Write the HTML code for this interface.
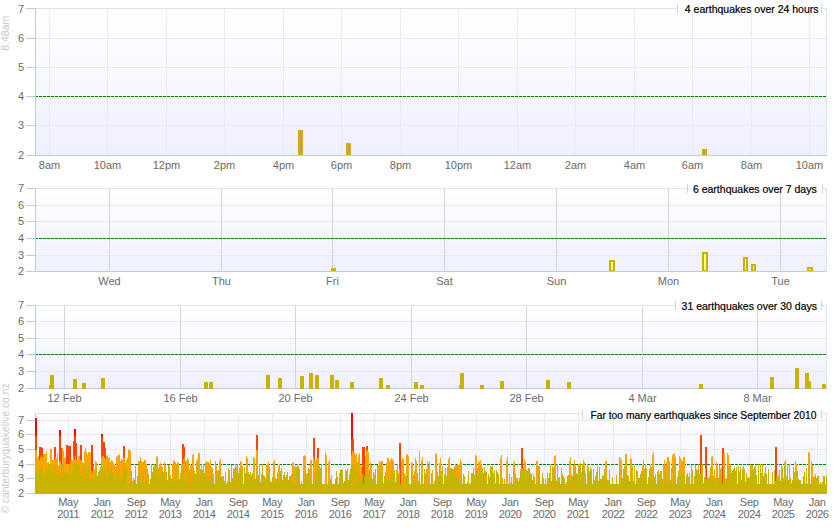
<!DOCTYPE html>
<html><head><meta charset="utf-8"><style>html,body{margin:0;padding:0;background:#fff;overflow:hidden}svg{display:block}</style></head>
<body><svg width="835" height="530" viewBox="0 0 835 530" font-family='"Liberation Sans", sans-serif'><linearGradient id="g0" x1="0" y1="0" x2="0" y2="1"><stop offset="0" stop-color="#FFFFFF"/><stop offset="1" stop-color="#EFEFFF"/></linearGradient>
<rect x="35.5" y="8.5" width="791.0" height="147.0" fill="url(#g0)"/>
<line x1="35.5" x2="826.5" y1="125.5" y2="125.5" stroke="#EAEAF0" stroke-width="1"/>
<line x1="35.5" x2="826.5" y1="96.5" y2="96.5" stroke="#EAEAF0" stroke-width="1"/>
<line x1="35.5" x2="826.5" y1="67.5" y2="67.5" stroke="#EAEAF0" stroke-width="1"/>
<line x1="35.5" x2="826.5" y1="38.5" y2="38.5" stroke="#EAEAF0" stroke-width="1"/>
<line x1="35.5" x2="826.5" y1="8.5" y2="8.5" stroke="#EAEAF0" stroke-width="1"/>
<line x1="49.5" x2="49.5" y1="8.5" y2="155.5" stroke="#EAEAF0" stroke-width="1"/>
<line x1="107.5" x2="107.5" y1="8.5" y2="155.5" stroke="#EAEAF0" stroke-width="1"/>
<line x1="166.5" x2="166.5" y1="8.5" y2="155.5" stroke="#EAEAF0" stroke-width="1"/>
<line x1="224.5" x2="224.5" y1="8.5" y2="155.5" stroke="#EAEAF0" stroke-width="1"/>
<line x1="283.5" x2="283.5" y1="8.5" y2="155.5" stroke="#EAEAF0" stroke-width="1"/>
<line x1="341.5" x2="341.5" y1="8.5" y2="155.5" stroke="#EAEAF0" stroke-width="1"/>
<line x1="400.5" x2="400.5" y1="8.5" y2="155.5" stroke="#EAEAF0" stroke-width="1"/>
<line x1="458.5" x2="458.5" y1="8.5" y2="155.5" stroke="#EAEAF0" stroke-width="1"/>
<line x1="517.5" x2="517.5" y1="8.5" y2="155.5" stroke="#EAEAF0" stroke-width="1"/>
<line x1="575.5" x2="575.5" y1="8.5" y2="155.5" stroke="#EAEAF0" stroke-width="1"/>
<line x1="634.5" x2="634.5" y1="8.5" y2="155.5" stroke="#EAEAF0" stroke-width="1"/>
<line x1="692.5" x2="692.5" y1="8.5" y2="155.5" stroke="#EAEAF0" stroke-width="1"/>
<line x1="751.5" x2="751.5" y1="8.5" y2="155.5" stroke="#EAEAF0" stroke-width="1"/>
<line x1="809.5" x2="809.5" y1="8.5" y2="155.5" stroke="#EAEAF0" stroke-width="1"/>
<line x1="35" x2="827" y1="96.5" y2="96.5" stroke="#008000" stroke-width="1" stroke-dasharray="3,1"/>
<rect x="299" y="131" width="3" height="24" fill="#F08070" stroke="#C8B400" stroke-width="2"/>
<rect x="347" y="144" width="3" height="11" fill="#F08070" stroke="#C8B400" stroke-width="2"/>
<rect x="703" y="150" width="3" height="5" fill="#F08070" stroke="#C8B400" stroke-width="2"/>
<line x1="826.5" x2="826.5" y1="8.5" y2="155.5" stroke="#DCE6EA" stroke-width="1"/>
<line x1="35.5" x2="826.5" y1="8.5" y2="8.5" stroke="#DCE6EA" stroke-width="1"/>
<line x1="35.5" x2="35.5" y1="8.5" y2="155.5" stroke="#B8D0D0" stroke-width="1"/>
<line x1="35.5" x2="826.5" y1="155.5" y2="155.5" stroke="#B8D0D0" stroke-width="1"/>
<line x1="26" x2="35.5" y1="155.5" y2="155.5" stroke="#B8D0D0" stroke-width="1"/>
<text x="24" y="159.0" text-anchor="end" font-size="11" fill="#6A6A6A">2</text>
<line x1="26" x2="35.5" y1="125.5" y2="125.5" stroke="#B8D0D0" stroke-width="1"/>
<text x="24" y="129.0" text-anchor="end" font-size="11" fill="#6A6A6A">3</text>
<line x1="26" x2="35.5" y1="96.5" y2="96.5" stroke="#B8D0D0" stroke-width="1"/>
<text x="24" y="100.0" text-anchor="end" font-size="11" fill="#6A6A6A">4</text>
<line x1="26" x2="35.5" y1="67.5" y2="67.5" stroke="#B8D0D0" stroke-width="1"/>
<text x="24" y="71.0" text-anchor="end" font-size="11" fill="#6A6A6A">5</text>
<line x1="26" x2="35.5" y1="38.5" y2="38.5" stroke="#B8D0D0" stroke-width="1"/>
<text x="24" y="42.0" text-anchor="end" font-size="11" fill="#6A6A6A">6</text>
<line x1="26" x2="35.5" y1="8.5" y2="8.5" stroke="#B8D0D0" stroke-width="1"/>
<text x="24" y="13.0" text-anchor="end" font-size="11" fill="#6A6A6A">7</text>
<text x="49.5" y="169" text-anchor="middle" font-size="11" fill="#6A6A6A">8am</text>
<text x="107.5" y="169" text-anchor="middle" font-size="11" fill="#6A6A6A">10am</text>
<text x="166.5" y="169" text-anchor="middle" font-size="11" fill="#6A6A6A">12pm</text>
<text x="224.5" y="169" text-anchor="middle" font-size="11" fill="#6A6A6A">2pm</text>
<text x="283.5" y="169" text-anchor="middle" font-size="11" fill="#6A6A6A">4pm</text>
<text x="341.5" y="169" text-anchor="middle" font-size="11" fill="#6A6A6A">6pm</text>
<text x="400.5" y="169" text-anchor="middle" font-size="11" fill="#6A6A6A">8pm</text>
<text x="458.5" y="169" text-anchor="middle" font-size="11" fill="#6A6A6A">10pm</text>
<text x="517.5" y="169" text-anchor="middle" font-size="11" fill="#6A6A6A">12am</text>
<text x="575.5" y="169" text-anchor="middle" font-size="11" fill="#6A6A6A">2am</text>
<text x="634.5" y="169" text-anchor="middle" font-size="11" fill="#6A6A6A">4am</text>
<text x="692.5" y="169" text-anchor="middle" font-size="11" fill="#6A6A6A">6am</text>
<text x="751.5" y="169" text-anchor="middle" font-size="11" fill="#6A6A6A">8am</text>
<text x="809.5" y="169" text-anchor="middle" font-size="11" fill="#6A6A6A">10am</text>
<rect x="677.5" y="4" width="144.0" height="9" fill="#fff"/>
<line x1="677.5" x2="677.5" y1="4" y2="13" stroke="#D0D4D8" stroke-width="1"/>
<line x1="821.5" x2="821.5" y1="4" y2="13" stroke="#D0D4D8" stroke-width="1"/>
<text x="818.5" y="12.5" text-anchor="end" font-size="10.5" fill="#000" stroke="#000" stroke-width="0.2">4 earthquakes over 24 hours</text>
<linearGradient id="g1" x1="0" y1="0" x2="0" y2="1"><stop offset="0" stop-color="#FFFFFF"/><stop offset="1" stop-color="#EFEFFF"/></linearGradient>
<rect x="35.5" y="188.5" width="791.0" height="83.0" fill="url(#g1)"/>
<line x1="35.5" x2="826.5" y1="255.5" y2="255.5" stroke="#EAEAF0" stroke-width="1"/>
<line x1="35.5" x2="826.5" y1="238.5" y2="238.5" stroke="#EAEAF0" stroke-width="1"/>
<line x1="35.5" x2="826.5" y1="221.5" y2="221.5" stroke="#EAEAF0" stroke-width="1"/>
<line x1="35.5" x2="826.5" y1="205.5" y2="205.5" stroke="#EAEAF0" stroke-width="1"/>
<line x1="35.5" x2="826.5" y1="188.5" y2="188.5" stroke="#EAEAF0" stroke-width="1"/>
<line x1="109.5" x2="109.5" y1="188.5" y2="271.5" stroke="#D4D4DC" stroke-width="1"/>
<line x1="221.5" x2="221.5" y1="188.5" y2="271.5" stroke="#D4D4DC" stroke-width="1"/>
<line x1="332.5" x2="332.5" y1="188.5" y2="271.5" stroke="#D4D4DC" stroke-width="1"/>
<line x1="444.5" x2="444.5" y1="188.5" y2="271.5" stroke="#D4D4DC" stroke-width="1"/>
<line x1="556.5" x2="556.5" y1="188.5" y2="271.5" stroke="#D4D4DC" stroke-width="1"/>
<line x1="668.5" x2="668.5" y1="188.5" y2="271.5" stroke="#D4D4DC" stroke-width="1"/>
<line x1="780.5" x2="780.5" y1="188.5" y2="271.5" stroke="#D4D4DC" stroke-width="1"/>
<line x1="35" x2="827" y1="238.5" y2="238.5" stroke="#008000" stroke-width="1" stroke-dasharray="3,1"/>
<rect x="332" y="269" width="3" height="2" fill="#FFFF80" stroke="#C8B400" stroke-width="2"/>
<rect x="610" y="261" width="4" height="10" fill="#FFFF80" stroke="#C8B400" stroke-width="2"/>
<rect x="703" y="253" width="4" height="18" fill="#FFFF80" stroke="#C8B400" stroke-width="2"/>
<rect x="744" y="258" width="3" height="13" fill="#FFFF80" stroke="#C8B400" stroke-width="2"/>
<rect x="752" y="265" width="3" height="6" fill="#FFFF80" stroke="#C8B400" stroke-width="2"/>
<rect x="808" y="268" width="4" height="3" fill="#FFFF80" stroke="#C8B400" stroke-width="2"/>
<line x1="826.5" x2="826.5" y1="188.5" y2="271.5" stroke="#DCE6EA" stroke-width="1"/>
<line x1="35.5" x2="826.5" y1="188.5" y2="188.5" stroke="#DCE6EA" stroke-width="1"/>
<line x1="35.5" x2="35.5" y1="188.5" y2="271.5" stroke="#B8D0D0" stroke-width="1"/>
<line x1="35.5" x2="826.5" y1="271.5" y2="271.5" stroke="#B8D0D0" stroke-width="1"/>
<line x1="26" x2="35.5" y1="271.5" y2="271.5" stroke="#B8D0D0" stroke-width="1"/>
<text x="24" y="275.0" text-anchor="end" font-size="11" fill="#6A6A6A">2</text>
<line x1="26" x2="35.5" y1="255.5" y2="255.5" stroke="#B8D0D0" stroke-width="1"/>
<text x="24" y="259.0" text-anchor="end" font-size="11" fill="#6A6A6A">3</text>
<line x1="26" x2="35.5" y1="238.5" y2="238.5" stroke="#B8D0D0" stroke-width="1"/>
<text x="24" y="242.0" text-anchor="end" font-size="11" fill="#6A6A6A">4</text>
<line x1="26" x2="35.5" y1="221.5" y2="221.5" stroke="#B8D0D0" stroke-width="1"/>
<text x="24" y="225.0" text-anchor="end" font-size="11" fill="#6A6A6A">5</text>
<line x1="26" x2="35.5" y1="205.5" y2="205.5" stroke="#B8D0D0" stroke-width="1"/>
<text x="24" y="209.0" text-anchor="end" font-size="11" fill="#6A6A6A">6</text>
<line x1="26" x2="35.5" y1="188.5" y2="188.5" stroke="#B8D0D0" stroke-width="1"/>
<text x="24" y="192.0" text-anchor="end" font-size="11" fill="#6A6A6A">7</text>
<text x="109.5" y="285" text-anchor="middle" font-size="11" fill="#6A6A6A">Wed</text>
<text x="221.5" y="285" text-anchor="middle" font-size="11" fill="#6A6A6A">Thu</text>
<text x="332.5" y="285" text-anchor="middle" font-size="11" fill="#6A6A6A">Fri</text>
<text x="444.5" y="285" text-anchor="middle" font-size="11" fill="#6A6A6A">Sat</text>
<text x="556.5" y="285" text-anchor="middle" font-size="11" fill="#6A6A6A">Sun</text>
<text x="668.5" y="285" text-anchor="middle" font-size="11" fill="#6A6A6A">Mon</text>
<text x="780.5" y="285" text-anchor="middle" font-size="11" fill="#6A6A6A">Tue</text>
<rect x="687.5" y="184" width="135.0" height="9" fill="#fff"/>
<line x1="687.5" x2="687.5" y1="184" y2="193" stroke="#D0D4D8" stroke-width="1"/>
<line x1="822.5" x2="822.5" y1="184" y2="193" stroke="#D0D4D8" stroke-width="1"/>
<text x="816.7" y="192.5" text-anchor="end" font-size="10.5" fill="#000" stroke="#000" stroke-width="0.2">6 earthquakes over 7 days</text>
<linearGradient id="g2" x1="0" y1="0" x2="0" y2="1"><stop offset="0" stop-color="#FFFFFF"/><stop offset="1" stop-color="#EFEFFF"/></linearGradient>
<rect x="35.5" y="305.5" width="791.0" height="83.0" fill="url(#g2)"/>
<line x1="35.5" x2="826.5" y1="371.5" y2="371.5" stroke="#EAEAF0" stroke-width="1"/>
<line x1="35.5" x2="826.5" y1="354.5" y2="354.5" stroke="#EAEAF0" stroke-width="1"/>
<line x1="35.5" x2="826.5" y1="338.5" y2="338.5" stroke="#EAEAF0" stroke-width="1"/>
<line x1="35.5" x2="826.5" y1="321.5" y2="321.5" stroke="#EAEAF0" stroke-width="1"/>
<line x1="35.5" x2="826.5" y1="305.5" y2="305.5" stroke="#EAEAF0" stroke-width="1"/>
<line x1="64.5" x2="64.5" y1="305.5" y2="388.5" stroke="#D4D4DC" stroke-width="1"/>
<line x1="180.5" x2="180.5" y1="305.5" y2="388.5" stroke="#D4D4DC" stroke-width="1"/>
<line x1="295.5" x2="295.5" y1="305.5" y2="388.5" stroke="#D4D4DC" stroke-width="1"/>
<line x1="411.5" x2="411.5" y1="305.5" y2="388.5" stroke="#D4D4DC" stroke-width="1"/>
<line x1="526.5" x2="526.5" y1="305.5" y2="388.5" stroke="#D4D4DC" stroke-width="1"/>
<line x1="642.5" x2="642.5" y1="305.5" y2="388.5" stroke="#D4D4DC" stroke-width="1"/>
<line x1="757.5" x2="757.5" y1="305.5" y2="388.5" stroke="#D4D4DC" stroke-width="1"/>
<line x1="35" x2="827" y1="354.5" y2="354.5" stroke="#008000" stroke-width="1" stroke-dasharray="3,1"/>
<line x1="826.5" x2="826.5" y1="305.5" y2="388.5" stroke="#DCE6EA" stroke-width="1"/>
<line x1="35.5" x2="826.5" y1="305.5" y2="305.5" stroke="#DCE6EA" stroke-width="1"/>
<line x1="35.5" x2="35.5" y1="305.5" y2="388.5" stroke="#B8D0D0" stroke-width="1"/>
<line x1="35.5" x2="826.5" y1="388.5" y2="388.5" stroke="#B8D0D0" stroke-width="1"/>
<line x1="26" x2="35.5" y1="388.5" y2="388.5" stroke="#B8D0D0" stroke-width="1"/>
<text x="24" y="392.0" text-anchor="end" font-size="11" fill="#6A6A6A">2</text>
<line x1="26" x2="35.5" y1="371.5" y2="371.5" stroke="#B8D0D0" stroke-width="1"/>
<text x="24" y="375.0" text-anchor="end" font-size="11" fill="#6A6A6A">3</text>
<line x1="26" x2="35.5" y1="354.5" y2="354.5" stroke="#B8D0D0" stroke-width="1"/>
<text x="24" y="358.0" text-anchor="end" font-size="11" fill="#6A6A6A">4</text>
<line x1="26" x2="35.5" y1="338.5" y2="338.5" stroke="#B8D0D0" stroke-width="1"/>
<text x="24" y="342.0" text-anchor="end" font-size="11" fill="#6A6A6A">5</text>
<line x1="26" x2="35.5" y1="321.5" y2="321.5" stroke="#B8D0D0" stroke-width="1"/>
<text x="24" y="325.0" text-anchor="end" font-size="11" fill="#6A6A6A">6</text>
<line x1="26" x2="35.5" y1="305.5" y2="305.5" stroke="#B8D0D0" stroke-width="1"/>
<text x="24" y="309.0" text-anchor="end" font-size="11" fill="#6A6A6A">7</text>
<path d="M49 385H50V389H49zM50 375H54V389H50zM73 379H77V389H73zM82 383H86V389H82zM101 378H105V389H101zM204 382H208V389H204zM209 382H213V389H209zM266 375H270V389H266zM278 378H282V389H278zM300 376H304V389H300zM309 373H313V389H309zM315 375H319V389H315zM330 375H334V389H330zM335 380H339V389H335zM350 382H354V389H350zM379 378H383V389H379zM386 385H390V389H386zM414 382H418V389H414zM420 385H424V389H420zM459 385H460V389H459zM460 373H464V389H460zM480 385H484V389H480zM500 381H504V389H500zM546 380H550V389H546zM567 382H571V389H567zM699 384H703V389H699zM770 377H774V389H770zM795 368H799V389H795zM805 373H809V389H805zM809 381H811V389H809zM822 384H826V389H822z" fill="#C8B400" shape-rendering="crispEdges"/>
<text x="64.5" y="401.5" text-anchor="middle" font-size="11" fill="#6A6A6A">12 Feb</text>
<text x="180.5" y="401.5" text-anchor="middle" font-size="11" fill="#6A6A6A">16 Feb</text>
<text x="295.5" y="401.5" text-anchor="middle" font-size="11" fill="#6A6A6A">20 Feb</text>
<text x="411.5" y="401.5" text-anchor="middle" font-size="11" fill="#6A6A6A">24 Feb</text>
<text x="526.5" y="401.5" text-anchor="middle" font-size="11" fill="#6A6A6A">28 Feb</text>
<text x="642.5" y="401.5" text-anchor="middle" font-size="11" fill="#6A6A6A">4 Mar</text>
<text x="757.5" y="401.5" text-anchor="middle" font-size="11" fill="#6A6A6A">8 Mar</text>
<rect x="675.5" y="301" width="146.0" height="9" fill="#fff"/>
<line x1="675.5" x2="675.5" y1="301" y2="310" stroke="#D0D4D8" stroke-width="1"/>
<line x1="821.5" x2="821.5" y1="301" y2="310" stroke="#D0D4D8" stroke-width="1"/>
<text x="817.0" y="309.5" text-anchor="end" font-size="10.5" fill="#000" stroke="#000" stroke-width="0.2">31 earthquakes over 30 days</text>
<linearGradient id="g3" x1="0" y1="0" x2="0" y2="1"><stop offset="0" stop-color="#FFFFFF"/><stop offset="1" stop-color="#EFEFFF"/></linearGradient>
<rect x="35.5" y="413.5" width="791.0" height="80.0" fill="url(#g3)"/>
<line x1="35.5" x2="826.5" y1="478.5" y2="478.5" stroke="#EAEAF0" stroke-width="1"/>
<line x1="35.5" x2="826.5" y1="464.5" y2="464.5" stroke="#EAEAF0" stroke-width="1"/>
<line x1="35.5" x2="826.5" y1="449.5" y2="449.5" stroke="#EAEAF0" stroke-width="1"/>
<line x1="35.5" x2="826.5" y1="434.5" y2="434.5" stroke="#EAEAF0" stroke-width="1"/>
<line x1="35.5" x2="826.5" y1="420.5" y2="420.5" stroke="#EAEAF0" stroke-width="1"/>
<line x1="68.5" x2="68.5" y1="413.5" y2="493.5" stroke="#EAEAF0" stroke-width="1"/>
<line x1="102.5" x2="102.5" y1="413.5" y2="493.5" stroke="#EAEAF0" stroke-width="1"/>
<line x1="136.5" x2="136.5" y1="413.5" y2="493.5" stroke="#EAEAF0" stroke-width="1"/>
<line x1="170.5" x2="170.5" y1="413.5" y2="493.5" stroke="#EAEAF0" stroke-width="1"/>
<line x1="204.5" x2="204.5" y1="413.5" y2="493.5" stroke="#EAEAF0" stroke-width="1"/>
<line x1="238.5" x2="238.5" y1="413.5" y2="493.5" stroke="#EAEAF0" stroke-width="1"/>
<line x1="272.5" x2="272.5" y1="413.5" y2="493.5" stroke="#EAEAF0" stroke-width="1"/>
<line x1="306.5" x2="306.5" y1="413.5" y2="493.5" stroke="#EAEAF0" stroke-width="1"/>
<line x1="340.5" x2="340.5" y1="413.5" y2="493.5" stroke="#EAEAF0" stroke-width="1"/>
<line x1="374.5" x2="374.5" y1="413.5" y2="493.5" stroke="#EAEAF0" stroke-width="1"/>
<line x1="408.5" x2="408.5" y1="413.5" y2="493.5" stroke="#EAEAF0" stroke-width="1"/>
<line x1="442.5" x2="442.5" y1="413.5" y2="493.5" stroke="#EAEAF0" stroke-width="1"/>
<line x1="476.5" x2="476.5" y1="413.5" y2="493.5" stroke="#EAEAF0" stroke-width="1"/>
<line x1="510.5" x2="510.5" y1="413.5" y2="493.5" stroke="#EAEAF0" stroke-width="1"/>
<line x1="544.5" x2="544.5" y1="413.5" y2="493.5" stroke="#EAEAF0" stroke-width="1"/>
<line x1="578.5" x2="578.5" y1="413.5" y2="493.5" stroke="#EAEAF0" stroke-width="1"/>
<line x1="613.5" x2="613.5" y1="413.5" y2="493.5" stroke="#EAEAF0" stroke-width="1"/>
<line x1="646.5" x2="646.5" y1="413.5" y2="493.5" stroke="#EAEAF0" stroke-width="1"/>
<line x1="680.5" x2="680.5" y1="413.5" y2="493.5" stroke="#EAEAF0" stroke-width="1"/>
<line x1="714.5" x2="714.5" y1="413.5" y2="493.5" stroke="#EAEAF0" stroke-width="1"/>
<line x1="749.5" x2="749.5" y1="413.5" y2="493.5" stroke="#EAEAF0" stroke-width="1"/>
<line x1="783.5" x2="783.5" y1="413.5" y2="493.5" stroke="#EAEAF0" stroke-width="1"/>
<line x1="817.5" x2="817.5" y1="413.5" y2="493.5" stroke="#EAEAF0" stroke-width="1"/>
<line x1="35" x2="827" y1="464.5" y2="464.5" stroke="#008000" stroke-width="1" stroke-dasharray="3,1"/>
<line x1="826.5" x2="826.5" y1="413.5" y2="493.5" stroke="#DCE6EA" stroke-width="1"/>
<line x1="35.5" x2="826.5" y1="413.5" y2="413.5" stroke="#DCE6EA" stroke-width="1"/>
<line x1="35.5" x2="35.5" y1="413.5" y2="493.5" stroke="#B8D0D0" stroke-width="1"/>
<line x1="35.5" x2="826.5" y1="493.5" y2="493.5" stroke="#B8D0D0" stroke-width="1"/>
<line x1="26" x2="35.5" y1="493.5" y2="493.5" stroke="#B8D0D0" stroke-width="1"/>
<text x="24" y="497.0" text-anchor="end" font-size="11" fill="#6A6A6A">2</text>
<line x1="26" x2="35.5" y1="478.5" y2="478.5" stroke="#B8D0D0" stroke-width="1"/>
<text x="24" y="482.0" text-anchor="end" font-size="11" fill="#6A6A6A">3</text>
<line x1="26" x2="35.5" y1="464.5" y2="464.5" stroke="#B8D0D0" stroke-width="1"/>
<text x="24" y="468.0" text-anchor="end" font-size="11" fill="#6A6A6A">4</text>
<line x1="26" x2="35.5" y1="449.5" y2="449.5" stroke="#B8D0D0" stroke-width="1"/>
<text x="24" y="453.0" text-anchor="end" font-size="11" fill="#6A6A6A">5</text>
<line x1="26" x2="35.5" y1="434.5" y2="434.5" stroke="#B8D0D0" stroke-width="1"/>
<text x="24" y="438.0" text-anchor="end" font-size="11" fill="#6A6A6A">6</text>
<line x1="26" x2="35.5" y1="420.5" y2="420.5" stroke="#B8D0D0" stroke-width="1"/>
<text x="24" y="424.0" text-anchor="end" font-size="11" fill="#6A6A6A">7</text>
<g shape-rendering="crispEdges"><path fill="#FF0000" d="M35 417.9h1V493.5h-1zM36 417.9h1V493.5h-1zM59 430.0h1V493.5h-1zM60 430.0h1V493.5h-1zM74 428.8h1V493.5h-1zM75 428.8h1V493.5h-1zM101 434.1h1V493.5h-1zM102 434.1h1V493.5h-1zM351 413.0h1V493.5h-1zM352 413.0h1V493.5h-1z"/><path fill="#FF4500" d="M35 435.6h1V493.5h-1zM36 435.6h1V493.5h-1zM39 447.0h1V493.5h-1zM40 447.0h1V493.5h-1zM41 447.0h1V493.5h-1zM42 448.1h1V493.5h-1zM54 447.0h1V493.5h-1zM55 447.0h1V493.5h-1zM59 436.0h1V493.5h-1zM60 436.0h1V493.5h-1zM61 448.0h1V493.5h-1zM66 445.1h1V493.5h-1zM67 445.1h1V493.5h-1zM68 446.0h1V493.5h-1zM69 446.0h1V493.5h-1zM70 446.0h1V493.5h-1zM73 441.0h1V493.5h-1zM74 435.7h1V493.5h-1zM75 435.7h1V493.5h-1zM76 443.0h1V493.5h-1zM80 445.1h1V493.5h-1zM81 445.1h1V493.5h-1zM91 445.1h1V493.5h-1zM92 445.1h1V493.5h-1zM101 436.9h1V493.5h-1zM102 436.9h1V493.5h-1zM103 442.4h1V493.5h-1zM104 442.4h1V493.5h-1zM105 448.0h1V493.5h-1zM123 445.7h1V493.5h-1zM124 445.7h1V493.5h-1zM182 444.1h1V493.5h-1zM183 444.1h1V493.5h-1zM184 447.2h1V493.5h-1zM256 435.0h1V493.5h-1zM257 435.0h1V493.5h-1zM313 437.8h1V493.5h-1zM314 437.8h1V493.5h-1zM317 448.0h1V493.5h-1zM318 448.0h1V493.5h-1zM351 439.4h1V493.5h-1zM352 439.4h1V493.5h-1zM353 439.4h1V493.5h-1zM362 446.8h1V493.5h-1zM363 446.8h1V493.5h-1zM364 446.8h1V493.5h-1zM366 445.7h1V493.5h-1zM367 445.7h1V493.5h-1zM399 442.8h1V493.5h-1zM400 442.8h1V493.5h-1zM521 448.0h1V493.5h-1zM522 448.0h1V493.5h-1zM700 435.0h1V493.5h-1zM701 435.0h1V493.5h-1zM705 446.8h1V493.5h-1zM706 446.8h1V493.5h-1zM722 448.0h1V493.5h-1zM723 448.0h1V493.5h-1zM775 446.8h1V493.5h-1zM776 446.8h1V493.5h-1z"/><path fill="#FFA500" d="M35 449.7h1V493.5h-1zM36 450.2h1V493.5h-1zM37 457.0h1V493.5h-1zM38 455.7h1V493.5h-1zM39 460.0h1V493.5h-1zM40 457.4h1V493.5h-1zM41 455.0h1V493.5h-1zM42 457.0h1V493.5h-1zM43 454.3h1V493.5h-1zM44 453.8h1V493.5h-1zM45 454.0h1V493.5h-1zM46 451.3h1V493.5h-1zM47 463.4h1V493.5h-1zM48 461.7h1V493.5h-1zM49 464.7h1V493.5h-1zM50 449.0h1V493.5h-1zM51 448.7h1V493.5h-1zM52 459.7h1V493.5h-1zM53 459.6h1V493.5h-1zM54 460.2h1V493.5h-1zM55 457.1h1V493.5h-1zM56 457.9h1V493.5h-1zM57 453.0h1V493.5h-1zM58 466.0h1V493.5h-1zM59 461.9h1V493.5h-1zM60 461.3h1V493.5h-1zM61 465.1h1V493.5h-1zM62 448.4h1V493.5h-1zM63 451.1h1V493.5h-1zM64 457.5h1V493.5h-1zM65 456.8h1V493.5h-1zM66 463.9h1V493.5h-1zM67 463.5h1V493.5h-1zM68 464.3h1V493.5h-1zM69 463.6h1V493.5h-1zM70 460.1h1V493.5h-1zM71 459.9h1V493.5h-1zM72 460.4h1V493.5h-1zM73 457.4h1V493.5h-1zM74 460.0h1V493.5h-1zM75 456.3h1V493.5h-1zM76 460.2h1V493.5h-1zM77 459.6h1V493.5h-1zM78 455.8h1V493.5h-1zM79 455.8h1V493.5h-1zM80 460.1h1V493.5h-1zM81 461.0h1V493.5h-1zM82 461.6h1V493.5h-1zM83 462.9h1V493.5h-1zM84 451.1h1V493.5h-1zM85 448.0h1V493.5h-1zM86 451.8h1V493.5h-1zM87 454.5h1V493.5h-1zM88 452.1h1V493.5h-1zM89 451.5h1V493.5h-1zM90 452.6h1V493.5h-1zM91 471.4h1V493.5h-1zM92 472.7h1V493.5h-1zM93 465.1h1V493.5h-1zM94 468.7h1V493.5h-1zM95 460.8h1V493.5h-1zM96 462.4h1V493.5h-1zM101 456.8h1V493.5h-1zM102 455.6h1V493.5h-1zM103 455.5h1V493.5h-1zM104 457.7h1V493.5h-1zM105 458.5h1V493.5h-1zM106 456.1h1V493.5h-1zM107 454.9h1V493.5h-1zM108 458.1h1V493.5h-1zM109 456.8h1V493.5h-1zM110 461.8h1V493.5h-1zM111 460.3h1V493.5h-1zM112 461.0h1V493.5h-1zM113 463.0h1V493.5h-1zM114 464.5h1V493.5h-1zM115 466.6h1V493.5h-1zM116 457.1h1V493.5h-1zM117 455.9h1V493.5h-1zM118 454.3h1V493.5h-1zM119 454.9h1V493.5h-1zM120 461.4h1V493.5h-1zM121 458.5h1V493.5h-1zM122 460.2h1V493.5h-1zM123 456.7h1V493.5h-1zM124 458.3h1V493.5h-1zM125 462.5h1V493.5h-1zM126 459.6h1V493.5h-1zM127 458.1h1V493.5h-1zM128 449.3h1V493.5h-1zM129 450.2h1V493.5h-1zM130 451.1h1V493.5h-1zM138 461.0h1V493.5h-1zM139 461.4h1V493.5h-1zM140 456.7h1V493.5h-1zM141 461.1h1V493.5h-1zM142 461.7h1V493.5h-1zM143 462.0h1V493.5h-1zM144 460.4h1V493.5h-1zM145 460.3h1V493.5h-1zM146 463.5h1V493.5h-1zM156 457.0h1V493.5h-1zM157 456.3h1V493.5h-1zM158 467.8h1V493.5h-1zM159 464.6h1V493.5h-1zM160 463.2h1V493.5h-1zM161 465.8h1V493.5h-1zM162 467.1h1V493.5h-1zM164 461.5h1V493.5h-1zM165 464.5h1V493.5h-1zM172 464.0h1V493.5h-1zM173 460.1h1V493.5h-1zM174 461.1h1V493.5h-1zM175 461.5h1V493.5h-1zM176 463.7h1V493.5h-1zM177 462.3h1V493.5h-1zM178 462.6h1V493.5h-1zM181 463.7h1V493.5h-1zM182 464.0h1V493.5h-1zM183 459.0h1V493.5h-1zM184 457.0h1V493.5h-1zM185 460.9h1V493.5h-1zM186 460.7h1V493.5h-1zM187 457.8h1V493.5h-1zM188 459.7h1V493.5h-1zM190 464.5h1V493.5h-1zM191 464.5h1V493.5h-1zM192 454.7h1V493.5h-1zM193 454.4h1V493.5h-1zM196 461.3h1V493.5h-1zM197 459.1h1V493.5h-1zM198 452.8h1V493.5h-1zM199 452.8h1V493.5h-1zM205 462.7h1V493.5h-1zM206 460.8h1V493.5h-1zM207 461.9h1V493.5h-1zM208 461.8h1V493.5h-1zM209 462.5h1V493.5h-1zM210 460.4h1V493.5h-1zM215 460.6h1V493.5h-1zM216 465.9h1V493.5h-1zM219 460.9h1V493.5h-1zM220 459.4h1V493.5h-1zM240 461.1h1V493.5h-1zM241 461.9h1V493.5h-1zM246 455.8h1V493.5h-1zM247 458.2h1V493.5h-1zM253 456.8h1V493.5h-1zM254 457.8h1V493.5h-1zM256 449.5h1V493.5h-1zM257 449.6h1V493.5h-1zM266 465.1h1V493.5h-1zM267 464.4h1V493.5h-1zM268 462.3h1V493.5h-1zM273 461.9h1V493.5h-1zM274 460.3h1V493.5h-1zM278 465.5h1V493.5h-1zM279 463.5h1V493.5h-1zM292 462.5h1V493.5h-1zM293 461.5h1V493.5h-1zM295 465.7h1V493.5h-1zM296 466.5h1V493.5h-1zM303 455.8h1V493.5h-1zM304 454.7h1V493.5h-1zM305 455.5h1V493.5h-1zM310 460.3h1V493.5h-1zM311 459.8h1V493.5h-1zM313 456.8h1V493.5h-1zM314 459.5h1V493.5h-1zM315 461.3h1V493.5h-1zM316 459.0h1V493.5h-1zM317 457.8h1V493.5h-1zM318 457.6h1V493.5h-1zM325 451.8h1V493.5h-1zM326 454.8h1V493.5h-1zM328 461.5h1V493.5h-1zM329 460.0h1V493.5h-1zM351 454.7h1V493.5h-1zM352 450.8h1V493.5h-1zM353 452.5h1V493.5h-1zM354 453.0h1V493.5h-1zM355 454.7h1V493.5h-1zM356 453.1h1V493.5h-1zM357 461.8h1V493.5h-1zM358 455.0h1V493.5h-1zM359 453.4h1V493.5h-1zM360 464.9h1V493.5h-1zM365 455.7h1V493.5h-1zM366 451.4h1V493.5h-1zM367 450.4h1V493.5h-1zM368 451.6h1V493.5h-1zM370 462.3h1V493.5h-1zM371 465.4h1V493.5h-1zM377 465.4h1V493.5h-1zM378 465.0h1V493.5h-1zM379 460.7h1V493.5h-1zM380 461.6h1V493.5h-1zM381 461.2h1V493.5h-1zM382 460.8h1V493.5h-1zM386 462.7h1V493.5h-1zM387 457.6h1V493.5h-1zM388 458.1h1V493.5h-1zM389 461.4h1V493.5h-1zM390 459.6h1V493.5h-1zM391 458.2h1V493.5h-1zM392 458.9h1V493.5h-1zM393 460.5h1V493.5h-1zM401 461.4h1V493.5h-1zM402 457.8h1V493.5h-1zM403 459.0h1V493.5h-1zM406 455.1h1V493.5h-1zM407 454.3h1V493.5h-1zM408 456.3h1V493.5h-1zM411 462.1h1V493.5h-1zM412 462.5h1V493.5h-1zM415 458.0h1V493.5h-1zM416 461.0h1V493.5h-1zM419 450.6h1V493.5h-1zM421 459.6h1V493.5h-1zM422 456.8h1V493.5h-1zM427 461.4h1V493.5h-1zM428 464.7h1V493.5h-1zM429 460.8h1V493.5h-1zM435 453.8h1V493.5h-1zM436 453.4h1V493.5h-1zM439 462.5h1V493.5h-1zM440 458.3h1V493.5h-1zM448 458.9h1V493.5h-1zM449 457.0h1V493.5h-1zM456 464.7h1V493.5h-1zM457 464.2h1V493.5h-1zM458 464.6h1V493.5h-1zM459 463.7h1V493.5h-1zM460 459.4h1V493.5h-1zM461 462.1h1V493.5h-1zM475 455.2h1V493.5h-1zM476 456.0h1V493.5h-1zM478 461.2h1V493.5h-1zM479 461.6h1V493.5h-1zM480 459.9h1V493.5h-1zM481 463.5h1V493.5h-1zM500 457.5h1V493.5h-1zM501 455.2h1V493.5h-1zM506 460.5h1V493.5h-1zM507 457.2h1V493.5h-1zM513 462.7h1V493.5h-1zM514 461.2h1V493.5h-1zM524 459.1h1V493.5h-1zM525 462.2h1V493.5h-1zM536 461.4h1V493.5h-1zM537 460.5h1V493.5h-1zM554 456.4h1V493.5h-1zM555 455.4h1V493.5h-1zM569 461.4h1V493.5h-1zM570 457.1h1V493.5h-1zM573 465.0h1V493.5h-1zM574 459.9h1V493.5h-1zM579 463.7h1V493.5h-1zM580 462.5h1V493.5h-1zM583 460.0h1V493.5h-1zM584 461.5h1V493.5h-1zM605 461.2h1V493.5h-1zM606 461.0h1V493.5h-1zM619 456.8h1V493.5h-1zM620 457.7h1V493.5h-1zM621 460.0h1V493.5h-1zM625 454.1h1V493.5h-1zM626 453.7h1V493.5h-1zM630 458.1h1V493.5h-1zM631 459.2h1V493.5h-1zM642 464.5h1V493.5h-1zM643 459.9h1V493.5h-1zM652 454.5h1V493.5h-1zM653 452.1h1V493.5h-1zM663 465.0h1V493.5h-1zM664 459.7h1V493.5h-1zM665 464.8h1V493.5h-1zM666 462.3h1V493.5h-1zM667 457.2h1V493.5h-1zM668 456.5h1V493.5h-1zM669 461.1h1V493.5h-1zM672 454.7h1V493.5h-1zM673 452.8h1V493.5h-1zM674 454.2h1V493.5h-1zM675 456.5h1V493.5h-1zM679 455.6h1V493.5h-1zM680 457.6h1V493.5h-1zM681 460.4h1V493.5h-1zM682 460.6h1V493.5h-1zM683 456.8h1V493.5h-1zM684 456.5h1V493.5h-1zM711 456.8h1V493.5h-1zM712 456.1h1V493.5h-1zM716 461.7h1V493.5h-1zM717 464.5h1V493.5h-1zM723 454.2h1V493.5h-1zM724 453.0h1V493.5h-1zM727 452.6h1V493.5h-1zM728 454.8h1V493.5h-1zM750 464.3h1V493.5h-1zM751 464.9h1V493.5h-1zM784 462.0h1V493.5h-1zM785 459.9h1V493.5h-1zM795 460.8h1V493.5h-1zM796 464.4h1V493.5h-1zM808 451.7h1V493.5h-1zM809 453.4h1V493.5h-1zM811 460.7h1V493.5h-1zM812 464.9h1V493.5h-1z"/><path fill="#C8B400" d="M35 471.4h1V493.5h-1zM36 473.1h1V493.5h-1zM37 475.0h1V493.5h-1zM38 466.6h1V493.5h-1zM39 466.9h1V493.5h-1zM40 470.0h1V493.5h-1zM41 463.6h1V493.5h-1zM42 467.8h1V493.5h-1zM43 477.3h1V493.5h-1zM44 472.4h1V493.5h-1zM45 477.3h1V493.5h-1zM46 470.8h1V493.5h-1zM47 467.2h1V493.5h-1zM48 463.6h1V493.5h-1zM49 463.6h1V493.5h-1zM50 471.4h1V493.5h-1zM51 468.9h1V493.5h-1zM52 466.3h1V493.5h-1zM53 471.8h1V493.5h-1zM54 463.6h1V493.5h-1zM55 465.4h1V493.5h-1zM56 474.0h1V493.5h-1zM57 463.6h1V493.5h-1zM58 475.4h1V493.5h-1zM59 470.6h1V493.5h-1zM60 477.4h1V493.5h-1zM61 463.6h1V493.5h-1zM62 463.6h1V493.5h-1zM63 463.6h1V493.5h-1zM64 472.6h1V493.5h-1zM65 470.4h1V493.5h-1zM66 472.6h1V493.5h-1zM67 471.5h1V493.5h-1zM68 475.3h1V493.5h-1zM69 463.6h1V493.5h-1zM70 463.6h1V493.5h-1zM71 475.6h1V493.5h-1zM72 470.1h1V493.5h-1zM73 463.6h1V493.5h-1zM74 463.6h1V493.5h-1zM75 467.1h1V493.5h-1zM76 463.6h1V493.5h-1zM77 466.0h1V493.5h-1zM78 463.6h1V493.5h-1zM79 464.3h1V493.5h-1zM80 476.0h1V493.5h-1zM81 476.0h1V493.5h-1zM82 465.1h1V493.5h-1zM83 463.6h1V493.5h-1zM84 479.3h1V493.5h-1zM85 467.8h1V493.5h-1zM86 465.5h1V493.5h-1zM87 472.8h1V493.5h-1zM88 466.7h1V493.5h-1zM89 465.5h1V493.5h-1zM90 484.0h1V493.5h-1zM91 477.1h1V493.5h-1zM92 473.4h1V493.5h-1zM93 484.0h1V493.5h-1zM94 480.9h1V493.5h-1zM95 471.3h1V493.5h-1zM96 469.7h1V493.5h-1zM97 476.2h1V493.5h-1zM98 472.3h1V493.5h-1zM99 469.7h1V493.5h-1zM100 466.9h1V493.5h-1zM101 464.9h1V493.5h-1zM102 463.6h1V493.5h-1zM103 469.9h1V493.5h-1zM104 465.4h1V493.5h-1zM105 467.8h1V493.5h-1zM106 477.0h1V493.5h-1zM107 464.5h1V493.5h-1zM108 468.6h1V493.5h-1zM109 467.3h1V493.5h-1zM110 471.6h1V493.5h-1zM111 463.6h1V493.5h-1zM112 472.1h1V493.5h-1zM113 471.5h1V493.5h-1zM114 479.5h1V493.5h-1zM115 477.5h1V493.5h-1zM116 468.6h1V493.5h-1zM117 463.9h1V493.5h-1zM118 477.3h1V493.5h-1zM119 468.2h1V493.5h-1zM120 477.6h1V493.5h-1zM121 475.6h1V493.5h-1zM122 474.4h1V493.5h-1zM123 463.6h1V493.5h-1zM124 469.0h1V493.5h-1zM125 467.0h1V493.5h-1zM126 463.6h1V493.5h-1zM127 483.2h1V493.5h-1zM128 484.0h1V493.5h-1zM129 483.4h1V493.5h-1zM130 470.0h1V493.5h-1zM131 470.7h1V493.5h-1zM132 480.5h1V493.5h-1zM133 477.6h1V493.5h-1zM134 479.9h1V493.5h-1zM135 466.3h1V493.5h-1zM136 484.0h1V493.5h-1zM137 475.8h1V493.5h-1zM138 463.7h1V493.5h-1zM139 464.0h1V493.5h-1zM140 484.0h1V493.5h-1zM141 463.6h1V493.5h-1zM142 474.7h1V493.5h-1zM143 472.3h1V493.5h-1zM144 484.0h1V493.5h-1zM145 466.5h1V493.5h-1zM146 484.0h1V493.5h-1zM147 469.4h1V493.5h-1zM148 473.5h1V493.5h-1zM149 484.0h1V493.5h-1zM150 478.7h1V493.5h-1zM151 463.6h1V493.5h-1zM152 471.9h1V493.5h-1zM153 466.9h1V493.5h-1zM154 463.7h1V493.5h-1zM155 465.0h1V493.5h-1zM156 463.6h1V493.5h-1zM157 464.6h1V493.5h-1zM158 476.4h1V493.5h-1zM159 463.6h1V493.5h-1zM160 473.4h1V493.5h-1zM161 469.3h1V493.5h-1zM162 467.3h1V493.5h-1zM163 472.4h1V493.5h-1zM164 474.7h1V493.5h-1zM165 482.9h1V493.5h-1zM166 471.5h1V493.5h-1zM167 479.9h1V493.5h-1zM168 465.1h1V493.5h-1zM169 466.1h1V493.5h-1zM170 474.9h1V493.5h-1zM171 478.9h1V493.5h-1zM172 484.0h1V493.5h-1zM173 478.1h1V493.5h-1zM174 479.1h1V493.5h-1zM175 467.8h1V493.5h-1zM176 463.6h1V493.5h-1zM177 479.1h1V493.5h-1zM178 482.2h1V493.5h-1zM179 479.3h1V493.5h-1zM180 473.2h1V493.5h-1zM181 468.0h1V493.5h-1zM182 470.4h1V493.5h-1zM183 466.4h1V493.5h-1zM184 480.6h1V493.5h-1zM185 466.6h1V493.5h-1zM186 475.3h1V493.5h-1zM187 484.0h1V493.5h-1zM188 464.9h1V493.5h-1zM189 468.9h1V493.5h-1zM190 484.0h1V493.5h-1zM191 468.3h1V493.5h-1zM192 474.7h1V493.5h-1zM193 468.2h1V493.5h-1zM194 470.9h1V493.5h-1zM195 473.7h1V493.5h-1zM196 466.8h1V493.5h-1zM197 474.6h1V493.5h-1zM198 463.6h1V493.5h-1zM199 478.9h1V493.5h-1zM200 468.8h1V493.5h-1zM201 463.6h1V493.5h-1zM202 469.7h1V493.5h-1zM203 463.6h1V493.5h-1zM204 472.6h1V493.5h-1zM205 463.6h1V493.5h-1zM206 475.6h1V493.5h-1zM207 470.3h1V493.5h-1zM208 475.8h1V493.5h-1zM209 464.5h1V493.5h-1zM210 481.4h1V493.5h-1zM211 467.1h1V493.5h-1zM212 467.7h1V493.5h-1zM213 473.6h1V493.5h-1zM214 484.0h1V493.5h-1zM215 474.9h1V493.5h-1zM216 476.1h1V493.5h-1zM217 470.6h1V493.5h-1zM218 470.2h1V493.5h-1zM219 470.1h1V493.5h-1zM220 476.5h1V493.5h-1zM221 476.6h1V493.5h-1zM222 476.0h1V493.5h-1zM223 476.4h1V493.5h-1zM224 481.3h1V493.5h-1zM225 472.4h1V493.5h-1zM226 484.0h1V493.5h-1zM227 481.0h1V493.5h-1zM228 468.2h1V493.5h-1zM229 470.4h1V493.5h-1zM230 482.4h1V493.5h-1zM231 465.2h1V493.5h-1zM232 477.6h1V493.5h-1zM233 468.0h1V493.5h-1zM234 469.2h1V493.5h-1zM235 463.6h1V493.5h-1zM236 466.9h1V493.5h-1zM237 463.6h1V493.5h-1zM238 472.9h1V493.5h-1zM239 467.6h1V493.5h-1zM240 468.0h1V493.5h-1zM241 470.3h1V493.5h-1zM242 465.6h1V493.5h-1zM243 484.0h1V493.5h-1zM244 466.6h1V493.5h-1zM245 473.2h1V493.5h-1zM246 473.4h1V493.5h-1zM247 472.7h1V493.5h-1zM248 472.2h1V493.5h-1zM249 474.0h1V493.5h-1zM250 472.1h1V493.5h-1zM251 475.3h1V493.5h-1zM252 472.6h1V493.5h-1zM253 478.5h1V493.5h-1zM254 478.5h1V493.5h-1zM255 479.3h1V493.5h-1zM256 468.0h1V493.5h-1zM257 479.7h1V493.5h-1zM258 474.6h1V493.5h-1zM259 463.6h1V493.5h-1zM260 482.4h1V493.5h-1zM261 474.0h1V493.5h-1zM262 463.6h1V493.5h-1zM263 474.9h1V493.5h-1zM264 476.3h1V493.5h-1zM265 478.3h1V493.5h-1zM266 478.1h1V493.5h-1zM267 473.7h1V493.5h-1zM268 471.3h1V493.5h-1zM269 467.0h1V493.5h-1zM270 480.9h1V493.5h-1zM271 481.8h1V493.5h-1zM272 476.9h1V493.5h-1zM273 483.4h1V493.5h-1zM274 481.9h1V493.5h-1zM275 477.6h1V493.5h-1zM276 478.5h1V493.5h-1zM277 473.2h1V493.5h-1zM278 477.0h1V493.5h-1zM279 482.6h1V493.5h-1zM280 470.8h1V493.5h-1zM281 467.8h1V493.5h-1zM282 479.6h1V493.5h-1zM283 475.3h1V493.5h-1zM284 472.1h1V493.5h-1zM285 477.1h1V493.5h-1zM286 474.7h1V493.5h-1zM287 471.9h1V493.5h-1zM288 480.0h1V493.5h-1zM289 475.6h1V493.5h-1zM290 475.8h1V493.5h-1zM291 474.4h1V493.5h-1zM292 484.0h1V493.5h-1zM293 484.0h1V493.5h-1zM294 467.2h1V493.5h-1zM295 478.3h1V493.5h-1zM296 466.6h1V493.5h-1zM297 463.6h1V493.5h-1zM298 465.6h1V493.5h-1zM299 468.7h1V493.5h-1zM300 484.0h1V493.5h-1zM301 480.8h1V493.5h-1zM302 484.0h1V493.5h-1zM303 468.8h1V493.5h-1zM304 477.3h1V493.5h-1zM305 472.4h1V493.5h-1zM306 474.0h1V493.5h-1zM307 473.3h1V493.5h-1zM308 468.1h1V493.5h-1zM309 468.8h1V493.5h-1zM310 477.0h1V493.5h-1zM311 484.0h1V493.5h-1zM312 484.0h1V493.5h-1zM313 471.3h1V493.5h-1zM314 484.0h1V493.5h-1zM315 470.5h1V493.5h-1zM316 473.4h1V493.5h-1zM317 463.7h1V493.5h-1zM318 463.6h1V493.5h-1zM319 465.7h1V493.5h-1zM320 468.0h1V493.5h-1zM321 463.6h1V493.5h-1zM322 484.0h1V493.5h-1zM323 483.6h1V493.5h-1zM324 484.0h1V493.5h-1zM325 479.4h1V493.5h-1zM326 483.3h1V493.5h-1zM327 484.0h1V493.5h-1zM328 480.7h1V493.5h-1zM329 484.0h1V493.5h-1zM330 478.9h1V493.5h-1zM331 474.5h1V493.5h-1zM332 484.0h1V493.5h-1zM333 483.5h1V493.5h-1zM334 483.9h1V493.5h-1zM335 478.7h1V493.5h-1zM336 470.9h1V493.5h-1zM337 477.3h1V493.5h-1zM338 484.0h1V493.5h-1zM339 472.7h1V493.5h-1zM340 469.7h1V493.5h-1zM341 468.6h1V493.5h-1zM342 469.9h1V493.5h-1zM343 482.6h1V493.5h-1zM344 480.7h1V493.5h-1zM345 470.4h1V493.5h-1zM346 470.5h1V493.5h-1zM347 469.3h1V493.5h-1zM348 479.6h1V493.5h-1zM349 473.7h1V493.5h-1zM350 468.6h1V493.5h-1zM351 464.5h1V493.5h-1zM352 463.6h1V493.5h-1zM353 483.7h1V493.5h-1zM354 467.5h1V493.5h-1zM355 463.6h1V493.5h-1zM356 480.4h1V493.5h-1zM357 467.8h1V493.5h-1zM358 463.6h1V493.5h-1zM359 474.9h1V493.5h-1zM360 478.7h1V493.5h-1zM361 466.8h1V493.5h-1zM362 474.4h1V493.5h-1zM363 484.0h1V493.5h-1zM364 476.2h1V493.5h-1zM365 465.1h1V493.5h-1zM366 463.6h1V493.5h-1zM367 463.6h1V493.5h-1zM368 474.8h1V493.5h-1zM369 470.4h1V493.5h-1zM370 479.1h1V493.5h-1zM371 473.4h1V493.5h-1zM372 479.3h1V493.5h-1zM373 472.1h1V493.5h-1zM374 474.2h1V493.5h-1zM375 469.3h1V493.5h-1zM376 484.0h1V493.5h-1zM377 484.0h1V493.5h-1zM378 470.7h1V493.5h-1zM379 484.0h1V493.5h-1zM380 473.7h1V493.5h-1zM381 467.7h1V493.5h-1zM382 472.4h1V493.5h-1zM383 482.9h1V493.5h-1zM384 475.6h1V493.5h-1zM385 472.2h1V493.5h-1zM386 478.5h1V493.5h-1zM387 483.4h1V493.5h-1zM388 479.2h1V493.5h-1zM389 484.0h1V493.5h-1zM390 478.4h1V493.5h-1zM391 468.5h1V493.5h-1zM392 466.1h1V493.5h-1zM393 473.2h1V493.5h-1zM394 470.4h1V493.5h-1zM395 481.7h1V493.5h-1zM396 469.7h1V493.5h-1zM397 463.6h1V493.5h-1zM398 472.6h1V493.5h-1zM399 469.1h1V493.5h-1zM400 484.0h1V493.5h-1zM401 481.1h1V493.5h-1zM402 484.0h1V493.5h-1zM403 463.7h1V493.5h-1zM404 473.3h1V493.5h-1zM405 476.3h1V493.5h-1zM406 471.3h1V493.5h-1zM407 475.9h1V493.5h-1zM408 473.7h1V493.5h-1zM409 484.0h1V493.5h-1zM410 484.0h1V493.5h-1zM411 471.4h1V493.5h-1zM412 483.2h1V493.5h-1zM413 475.2h1V493.5h-1zM414 470.9h1V493.5h-1zM415 476.6h1V493.5h-1zM416 484.0h1V493.5h-1zM417 472.5h1V493.5h-1zM418 481.1h1V493.5h-1zM419 472.7h1V493.5h-1zM420 484.0h1V493.5h-1zM421 481.5h1V493.5h-1zM422 472.1h1V493.5h-1zM423 484.0h1V493.5h-1zM424 468.7h1V493.5h-1zM425 473.6h1V493.5h-1zM426 469.3h1V493.5h-1zM427 484.0h1V493.5h-1zM428 484.0h1V493.5h-1zM429 471.4h1V493.5h-1zM430 484.0h1V493.5h-1zM431 473.1h1V493.5h-1zM432 470.4h1V493.5h-1zM433 484.0h1V493.5h-1zM434 480.6h1V493.5h-1zM435 481.1h1V493.5h-1zM436 477.8h1V493.5h-1zM437 471.9h1V493.5h-1zM438 476.4h1V493.5h-1zM439 468.6h1V493.5h-1zM440 475.7h1V493.5h-1zM441 471.2h1V493.5h-1zM442 467.2h1V493.5h-1zM443 484.0h1V493.5h-1zM444 473.6h1V493.5h-1zM445 468.3h1V493.5h-1zM446 475.6h1V493.5h-1zM447 466.6h1V493.5h-1zM448 474.9h1V493.5h-1zM449 475.0h1V493.5h-1zM450 468.0h1V493.5h-1zM451 468.1h1V493.5h-1zM452 469.1h1V493.5h-1zM453 469.2h1V493.5h-1zM454 466.7h1V493.5h-1zM455 463.6h1V493.5h-1zM456 474.7h1V493.5h-1zM457 463.7h1V493.5h-1zM458 476.6h1V493.5h-1zM459 480.4h1V493.5h-1zM460 484.0h1V493.5h-1zM461 467.9h1V493.5h-1zM462 483.8h1V493.5h-1zM463 474.0h1V493.5h-1zM464 475.5h1V493.5h-1zM465 484.0h1V493.5h-1zM466 484.0h1V493.5h-1zM467 482.2h1V493.5h-1zM468 471.3h1V493.5h-1zM469 484.0h1V493.5h-1zM470 482.7h1V493.5h-1zM471 472.8h1V493.5h-1zM472 473.3h1V493.5h-1zM473 468.1h1V493.5h-1zM474 474.5h1V493.5h-1zM475 468.4h1V493.5h-1zM476 472.0h1V493.5h-1zM477 468.4h1V493.5h-1zM478 475.7h1V493.5h-1zM479 471.2h1V493.5h-1zM480 467.6h1V493.5h-1zM481 474.7h1V493.5h-1zM482 468.0h1V493.5h-1zM483 473.0h1V493.5h-1zM484 467.2h1V493.5h-1zM485 471.1h1V493.5h-1zM486 472.3h1V493.5h-1zM487 484.0h1V493.5h-1zM488 473.9h1V493.5h-1zM489 477.2h1V493.5h-1zM490 466.3h1V493.5h-1zM491 466.8h1V493.5h-1zM492 465.8h1V493.5h-1zM493 473.4h1V493.5h-1zM494 469.9h1V493.5h-1zM495 483.1h1V493.5h-1zM496 470.0h1V493.5h-1zM497 471.5h1V493.5h-1zM498 474.1h1V493.5h-1zM499 484.0h1V493.5h-1zM500 472.9h1V493.5h-1zM501 484.0h1V493.5h-1zM502 477.6h1V493.5h-1zM503 484.0h1V493.5h-1zM504 479.4h1V493.5h-1zM505 484.0h1V493.5h-1zM506 484.0h1V493.5h-1zM507 482.9h1V493.5h-1zM508 483.9h1V493.5h-1zM509 473.8h1V493.5h-1zM510 483.1h1V493.5h-1zM511 477.0h1V493.5h-1zM512 483.5h1V493.5h-1zM513 477.3h1V493.5h-1zM514 484.0h1V493.5h-1zM515 473.0h1V493.5h-1zM516 478.3h1V493.5h-1zM517 478.3h1V493.5h-1zM518 481.0h1V493.5h-1zM519 478.3h1V493.5h-1zM520 469.3h1V493.5h-1zM521 467.8h1V493.5h-1zM522 469.3h1V493.5h-1zM523 466.8h1V493.5h-1zM524 469.9h1V493.5h-1zM525 477.8h1V493.5h-1zM526 470.0h1V493.5h-1zM527 470.9h1V493.5h-1zM528 467.9h1V493.5h-1zM529 468.1h1V493.5h-1zM530 473.1h1V493.5h-1zM531 473.7h1V493.5h-1zM532 479.5h1V493.5h-1zM533 474.1h1V493.5h-1zM534 477.0h1V493.5h-1zM535 483.7h1V493.5h-1zM536 482.6h1V493.5h-1zM537 481.5h1V493.5h-1zM538 465.5h1V493.5h-1zM539 466.1h1V493.5h-1zM540 484.0h1V493.5h-1zM541 483.7h1V493.5h-1zM542 473.0h1V493.5h-1zM543 478.1h1V493.5h-1zM544 484.0h1V493.5h-1zM545 478.5h1V493.5h-1zM546 484.0h1V493.5h-1zM547 473.3h1V493.5h-1zM548 478.0h1V493.5h-1zM549 473.1h1V493.5h-1zM550 465.1h1V493.5h-1zM551 481.1h1V493.5h-1zM552 465.6h1V493.5h-1zM553 467.8h1V493.5h-1zM554 476.3h1V493.5h-1zM555 478.1h1V493.5h-1zM556 480.9h1V493.5h-1zM557 464.2h1V493.5h-1zM558 477.5h1V493.5h-1zM559 476.7h1V493.5h-1zM560 484.0h1V493.5h-1zM561 467.5h1V493.5h-1zM562 473.6h1V493.5h-1zM563 476.0h1V493.5h-1zM564 477.9h1V493.5h-1zM565 484.0h1V493.5h-1zM566 481.5h1V493.5h-1zM567 476.2h1V493.5h-1zM568 474.7h1V493.5h-1zM569 479.7h1V493.5h-1zM570 483.4h1V493.5h-1zM571 473.9h1V493.5h-1zM572 475.9h1V493.5h-1zM573 471.0h1V493.5h-1zM574 469.8h1V493.5h-1zM575 466.4h1V493.5h-1zM576 472.7h1V493.5h-1zM577 473.7h1V493.5h-1zM578 463.6h1V493.5h-1zM579 466.0h1V493.5h-1zM580 463.6h1V493.5h-1zM581 471.5h1V493.5h-1zM582 463.6h1V493.5h-1zM583 463.6h1V493.5h-1zM584 471.1h1V493.5h-1zM585 472.8h1V493.5h-1zM586 484.0h1V493.5h-1zM587 463.6h1V493.5h-1zM588 467.0h1V493.5h-1zM589 470.9h1V493.5h-1zM590 466.5h1V493.5h-1zM591 469.1h1V493.5h-1zM592 484.0h1V493.5h-1zM593 468.6h1V493.5h-1zM594 479.8h1V493.5h-1zM595 476.0h1V493.5h-1zM596 471.6h1V493.5h-1zM597 465.8h1V493.5h-1zM598 480.7h1V493.5h-1zM599 466.8h1V493.5h-1zM600 479.2h1V493.5h-1zM601 479.3h1V493.5h-1zM602 474.9h1V493.5h-1zM603 475.8h1V493.5h-1zM604 468.7h1V493.5h-1zM605 483.0h1V493.5h-1zM606 478.3h1V493.5h-1zM607 479.7h1V493.5h-1zM608 480.4h1V493.5h-1zM609 469.8h1V493.5h-1zM610 484.0h1V493.5h-1zM611 484.0h1V493.5h-1zM612 477.2h1V493.5h-1zM613 484.0h1V493.5h-1zM614 484.0h1V493.5h-1zM615 484.0h1V493.5h-1zM616 475.3h1V493.5h-1zM617 484.0h1V493.5h-1zM618 484.0h1V493.5h-1zM619 470.2h1V493.5h-1zM620 482.0h1V493.5h-1zM621 467.6h1V493.5h-1zM622 477.5h1V493.5h-1zM623 469.0h1V493.5h-1zM624 466.3h1V493.5h-1zM625 475.3h1V493.5h-1zM626 466.5h1V493.5h-1zM627 474.6h1V493.5h-1zM628 475.8h1V493.5h-1zM629 480.8h1V493.5h-1zM630 481.1h1V493.5h-1zM631 468.8h1V493.5h-1zM632 466.0h1V493.5h-1zM633 480.8h1V493.5h-1zM634 464.5h1V493.5h-1zM635 484.0h1V493.5h-1zM636 470.1h1V493.5h-1zM637 471.3h1V493.5h-1zM638 478.0h1V493.5h-1zM639 478.1h1V493.5h-1zM640 473.8h1V493.5h-1zM641 470.5h1V493.5h-1zM642 473.1h1V493.5h-1zM643 467.3h1V493.5h-1zM644 468.9h1V493.5h-1zM645 464.3h1V493.5h-1zM646 468.3h1V493.5h-1zM647 484.0h1V493.5h-1zM648 477.1h1V493.5h-1zM649 468.5h1V493.5h-1zM650 465.4h1V493.5h-1zM651 466.6h1V493.5h-1zM652 475.9h1V493.5h-1zM653 475.3h1V493.5h-1zM654 476.6h1V493.5h-1zM655 473.9h1V493.5h-1zM656 484.0h1V493.5h-1zM657 472.4h1V493.5h-1zM658 470.0h1V493.5h-1zM659 473.7h1V493.5h-1zM660 471.0h1V493.5h-1zM661 470.5h1V493.5h-1zM662 478.5h1V493.5h-1zM663 484.0h1V493.5h-1zM664 472.7h1V493.5h-1zM665 469.9h1V493.5h-1zM666 482.9h1V493.5h-1zM667 478.3h1V493.5h-1zM668 470.3h1V493.5h-1zM669 481.9h1V493.5h-1zM670 480.1h1V493.5h-1zM671 468.1h1V493.5h-1zM672 482.6h1V493.5h-1zM673 463.6h1V493.5h-1zM674 463.6h1V493.5h-1zM675 484.0h1V493.5h-1zM676 484.0h1V493.5h-1zM677 476.6h1V493.5h-1zM678 471.1h1V493.5h-1zM679 484.0h1V493.5h-1zM680 474.3h1V493.5h-1zM681 482.9h1V493.5h-1zM682 473.3h1V493.5h-1zM683 484.0h1V493.5h-1zM684 474.1h1V493.5h-1zM685 483.5h1V493.5h-1zM686 474.7h1V493.5h-1zM687 472.6h1V493.5h-1zM688 476.8h1V493.5h-1zM689 473.2h1V493.5h-1zM690 484.0h1V493.5h-1zM691 464.5h1V493.5h-1zM692 469.7h1V493.5h-1zM693 484.0h1V493.5h-1zM694 475.8h1V493.5h-1zM695 465.4h1V493.5h-1zM696 469.1h1V493.5h-1zM697 470.2h1V493.5h-1zM698 463.6h1V493.5h-1zM699 474.1h1V493.5h-1zM700 474.0h1V493.5h-1zM701 464.5h1V493.5h-1zM702 463.6h1V493.5h-1zM703 483.2h1V493.5h-1zM704 477.1h1V493.5h-1zM705 469.1h1V493.5h-1zM706 478.6h1V493.5h-1zM707 477.6h1V493.5h-1zM708 477.8h1V493.5h-1zM709 476.4h1V493.5h-1zM710 466.9h1V493.5h-1zM711 469.4h1V493.5h-1zM712 479.7h1V493.5h-1zM713 476.4h1V493.5h-1zM714 470.1h1V493.5h-1zM715 477.9h1V493.5h-1zM716 482.1h1V493.5h-1zM717 468.1h1V493.5h-1zM718 477.7h1V493.5h-1zM719 464.9h1V493.5h-1zM720 469.2h1V493.5h-1zM721 466.8h1V493.5h-1zM722 484.0h1V493.5h-1zM723 468.6h1V493.5h-1zM724 479.9h1V493.5h-1zM725 479.1h1V493.5h-1zM726 477.9h1V493.5h-1zM727 464.1h1V493.5h-1zM728 466.5h1V493.5h-1zM729 465.5h1V493.5h-1zM730 463.6h1V493.5h-1zM731 472.7h1V493.5h-1zM732 469.5h1V493.5h-1zM733 469.4h1V493.5h-1zM734 466.8h1V493.5h-1zM735 471.2h1V493.5h-1zM736 466.6h1V493.5h-1zM737 484.0h1V493.5h-1zM738 466.3h1V493.5h-1zM739 472.3h1V493.5h-1zM740 466.8h1V493.5h-1zM741 479.9h1V493.5h-1zM742 469.4h1V493.5h-1zM743 465.7h1V493.5h-1zM744 469.2h1V493.5h-1zM745 482.3h1V493.5h-1zM746 473.1h1V493.5h-1zM747 476.9h1V493.5h-1zM748 478.0h1V493.5h-1zM749 476.5h1V493.5h-1zM750 471.1h1V493.5h-1zM751 471.0h1V493.5h-1zM752 464.9h1V493.5h-1zM753 469.1h1V493.5h-1zM754 466.9h1V493.5h-1zM755 465.5h1V493.5h-1zM756 474.9h1V493.5h-1zM757 484.0h1V493.5h-1zM758 464.1h1V493.5h-1zM759 484.0h1V493.5h-1zM760 464.4h1V493.5h-1zM761 473.0h1V493.5h-1zM762 463.6h1V493.5h-1zM763 475.6h1V493.5h-1zM764 473.0h1V493.5h-1zM765 467.4h1V493.5h-1zM766 474.4h1V493.5h-1zM767 484.0h1V493.5h-1zM768 468.5h1V493.5h-1zM769 484.0h1V493.5h-1zM770 484.0h1V493.5h-1zM771 484.0h1V493.5h-1zM772 471.7h1V493.5h-1zM773 484.0h1V493.5h-1zM774 470.3h1V493.5h-1zM775 481.2h1V493.5h-1zM776 476.7h1V493.5h-1zM777 476.5h1V493.5h-1zM778 474.7h1V493.5h-1zM779 470.1h1V493.5h-1zM780 481.0h1V493.5h-1zM781 464.7h1V493.5h-1zM782 466.5h1V493.5h-1zM783 477.8h1V493.5h-1zM784 465.9h1V493.5h-1zM785 479.2h1V493.5h-1zM786 476.3h1V493.5h-1zM787 465.7h1V493.5h-1zM788 479.9h1V493.5h-1zM789 463.6h1V493.5h-1zM790 477.7h1V493.5h-1zM791 482.8h1V493.5h-1zM792 480.2h1V493.5h-1zM793 467.2h1V493.5h-1zM794 471.5h1V493.5h-1zM795 482.6h1V493.5h-1zM796 472.3h1V493.5h-1zM797 471.3h1V493.5h-1zM798 479.3h1V493.5h-1zM799 480.4h1V493.5h-1zM800 479.5h1V493.5h-1zM801 484.0h1V493.5h-1zM802 484.0h1V493.5h-1zM803 475.5h1V493.5h-1zM804 471.7h1V493.5h-1zM805 482.6h1V493.5h-1zM806 468.0h1V493.5h-1zM807 484.0h1V493.5h-1zM808 470.0h1V493.5h-1zM809 470.9h1V493.5h-1zM810 484.0h1V493.5h-1zM811 478.6h1V493.5h-1zM812 484.0h1V493.5h-1zM813 476.8h1V493.5h-1zM814 476.3h1V493.5h-1zM815 474.3h1V493.5h-1zM816 477.5h1V493.5h-1zM817 475.9h1V493.5h-1zM818 475.9h1V493.5h-1zM819 484.0h1V493.5h-1zM820 481.8h1V493.5h-1zM821 484.0h1V493.5h-1zM822 481.8h1V493.5h-1zM823 475.8h1V493.5h-1zM824 476.0h1V493.5h-1zM825 484.0h1V493.5h-1zM826 475.1h1V493.5h-1z"/></g>
<text x="68.2" y="505.5" text-anchor="middle" font-size="11" letter-spacing="-0.3" fill="#6A6A6A">May</text>
<text x="68.2" y="517.5" text-anchor="middle" font-size="11" letter-spacing="-0.45" fill="#6A6A6A">2011</text>
<text x="102.2" y="505.5" text-anchor="middle" font-size="11" letter-spacing="-0.3" fill="#6A6A6A">Jan</text>
<text x="102.2" y="517.5" text-anchor="middle" font-size="11" letter-spacing="-0.45" fill="#6A6A6A">2012</text>
<text x="136.2" y="505.5" text-anchor="middle" font-size="11" letter-spacing="-0.3" fill="#6A6A6A">Sep</text>
<text x="136.2" y="517.5" text-anchor="middle" font-size="11" letter-spacing="-0.45" fill="#6A6A6A">2012</text>
<text x="170.2" y="505.5" text-anchor="middle" font-size="11" letter-spacing="-0.3" fill="#6A6A6A">May</text>
<text x="170.2" y="517.5" text-anchor="middle" font-size="11" letter-spacing="-0.45" fill="#6A6A6A">2013</text>
<text x="204.2" y="505.5" text-anchor="middle" font-size="11" letter-spacing="-0.3" fill="#6A6A6A">Jan</text>
<text x="204.2" y="517.5" text-anchor="middle" font-size="11" letter-spacing="-0.45" fill="#6A6A6A">2014</text>
<text x="238.2" y="505.5" text-anchor="middle" font-size="11" letter-spacing="-0.3" fill="#6A6A6A">Sep</text>
<text x="238.2" y="517.5" text-anchor="middle" font-size="11" letter-spacing="-0.45" fill="#6A6A6A">2014</text>
<text x="272.2" y="505.5" text-anchor="middle" font-size="11" letter-spacing="-0.3" fill="#6A6A6A">May</text>
<text x="272.2" y="517.5" text-anchor="middle" font-size="11" letter-spacing="-0.45" fill="#6A6A6A">2015</text>
<text x="306.2" y="505.5" text-anchor="middle" font-size="11" letter-spacing="-0.3" fill="#6A6A6A">Jan</text>
<text x="306.2" y="517.5" text-anchor="middle" font-size="11" letter-spacing="-0.45" fill="#6A6A6A">2016</text>
<text x="340.2" y="505.5" text-anchor="middle" font-size="11" letter-spacing="-0.3" fill="#6A6A6A">Sep</text>
<text x="340.2" y="517.5" text-anchor="middle" font-size="11" letter-spacing="-0.45" fill="#6A6A6A">2016</text>
<text x="374.2" y="505.5" text-anchor="middle" font-size="11" letter-spacing="-0.3" fill="#6A6A6A">May</text>
<text x="374.2" y="517.5" text-anchor="middle" font-size="11" letter-spacing="-0.45" fill="#6A6A6A">2017</text>
<text x="408.2" y="505.5" text-anchor="middle" font-size="11" letter-spacing="-0.3" fill="#6A6A6A">Jan</text>
<text x="408.2" y="517.5" text-anchor="middle" font-size="11" letter-spacing="-0.45" fill="#6A6A6A">2018</text>
<text x="442.2" y="505.5" text-anchor="middle" font-size="11" letter-spacing="-0.3" fill="#6A6A6A">Sep</text>
<text x="442.2" y="517.5" text-anchor="middle" font-size="11" letter-spacing="-0.45" fill="#6A6A6A">2018</text>
<text x="476.2" y="505.5" text-anchor="middle" font-size="11" letter-spacing="-0.3" fill="#6A6A6A">May</text>
<text x="476.2" y="517.5" text-anchor="middle" font-size="11" letter-spacing="-0.45" fill="#6A6A6A">2019</text>
<text x="510.2" y="505.5" text-anchor="middle" font-size="11" letter-spacing="-0.3" fill="#6A6A6A">Jan</text>
<text x="510.2" y="517.5" text-anchor="middle" font-size="11" letter-spacing="-0.45" fill="#6A6A6A">2020</text>
<text x="544.2" y="505.5" text-anchor="middle" font-size="11" letter-spacing="-0.3" fill="#6A6A6A">Sep</text>
<text x="544.2" y="517.5" text-anchor="middle" font-size="11" letter-spacing="-0.45" fill="#6A6A6A">2020</text>
<text x="578.2" y="505.5" text-anchor="middle" font-size="11" letter-spacing="-0.3" fill="#6A6A6A">May</text>
<text x="578.2" y="517.5" text-anchor="middle" font-size="11" letter-spacing="-0.45" fill="#6A6A6A">2021</text>
<text x="613.2" y="505.5" text-anchor="middle" font-size="11" letter-spacing="-0.3" fill="#6A6A6A">Jan</text>
<text x="613.2" y="517.5" text-anchor="middle" font-size="11" letter-spacing="-0.45" fill="#6A6A6A">2022</text>
<text x="646.2" y="505.5" text-anchor="middle" font-size="11" letter-spacing="-0.3" fill="#6A6A6A">Sep</text>
<text x="646.2" y="517.5" text-anchor="middle" font-size="11" letter-spacing="-0.45" fill="#6A6A6A">2022</text>
<text x="680.2" y="505.5" text-anchor="middle" font-size="11" letter-spacing="-0.3" fill="#6A6A6A">May</text>
<text x="680.2" y="517.5" text-anchor="middle" font-size="11" letter-spacing="-0.45" fill="#6A6A6A">2023</text>
<text x="714.2" y="505.5" text-anchor="middle" font-size="11" letter-spacing="-0.3" fill="#6A6A6A">Jan</text>
<text x="714.2" y="517.5" text-anchor="middle" font-size="11" letter-spacing="-0.45" fill="#6A6A6A">2024</text>
<text x="749.2" y="505.5" text-anchor="middle" font-size="11" letter-spacing="-0.3" fill="#6A6A6A">Sep</text>
<text x="749.2" y="517.5" text-anchor="middle" font-size="11" letter-spacing="-0.45" fill="#6A6A6A">2024</text>
<text x="783.2" y="505.5" text-anchor="middle" font-size="11" letter-spacing="-0.3" fill="#6A6A6A">May</text>
<text x="783.2" y="517.5" text-anchor="middle" font-size="11" letter-spacing="-0.45" fill="#6A6A6A">2025</text>
<text x="817.2" y="505.5" text-anchor="middle" font-size="11" letter-spacing="-0.3" fill="#6A6A6A">Jan</text>
<text x="817.2" y="517.5" text-anchor="middle" font-size="11" letter-spacing="-0.45" fill="#6A6A6A">2026</text>
<rect x="582.5" y="410" width="239.0" height="9" fill="#fff"/>
<line x1="582.5" x2="582.5" y1="410" y2="419" stroke="#D0D4D8" stroke-width="1"/>
<line x1="821.5" x2="821.5" y1="410" y2="419" stroke="#D0D4D8" stroke-width="1"/>
<text x="816.5" y="418.5" text-anchor="end" font-size="10.3" fill="#000" stroke="#000" stroke-width="0.2">Far too many earthquakes since September 2010</text>
<text transform="translate(9,50.8) rotate(-90)" font-size="10.5" fill="#C8C8C8">8:48am</text>
<text transform="translate(9.3,513.5) rotate(-90)" font-size="10.3" fill="#C8C8C8">© canterburyquakelive.co.nz</text></svg></body></html>
